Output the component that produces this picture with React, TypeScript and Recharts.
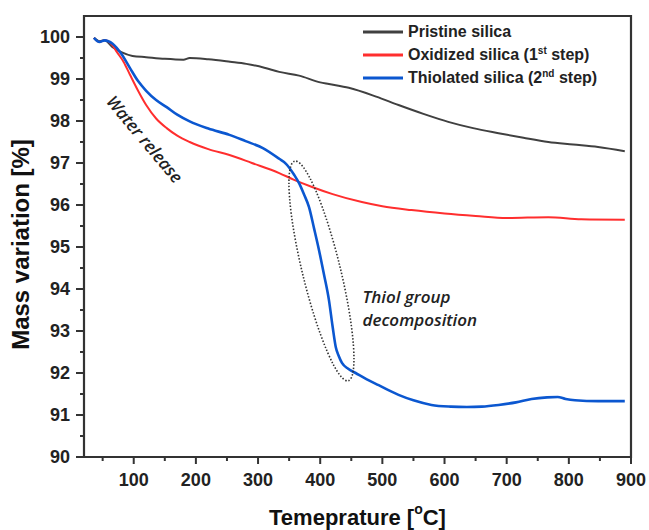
import { LineChart, Line, XAxis, YAxis, Legend, ReferenceDot, Label } from 'recharts'

// TGA curves (temperature in °C, mass in %)
const seriesNames = ['Pristine silica', 'Oxidized silica (1st step)', 'Thiolated silica (2nd step)']

const pristineTemp = [36, 45, 53, 66, 80, 98, 120, 150, 180, 190, 220, 255, 281, 310, 334, 366, 400, 414, 446, 490, 526, 566, 606, 646, 687, 727, 767, 807, 847, 890]
const pristineMass = [99.98, 99.9, 99.92, 99.76, 99.64, 99.55, 99.52, 99.48, 99.46, 99.5, 99.47, 99.41, 99.36, 99.27, 99.17, 99.08, 98.92, 98.88, 98.79, 98.58, 98.38, 98.17, 97.98, 97.83, 97.71, 97.6, 97.5, 97.44, 97.38, 97.28]

const oxidizedTemp = [36, 45, 53, 66, 73, 84, 94, 107, 120, 136, 153, 170, 190, 220, 254, 290, 334, 358, 387, 420, 467, 500, 547, 600, 650, 700, 767, 820, 890]
const oxidizedMass = [99.98, 99.88, 99.92, 99.8, 99.64, 99.4, 99.1, 98.72, 98.38, 98.06, 97.83, 97.65, 97.5, 97.33, 97.19, 97.0, 96.76, 96.6, 96.43, 96.26, 96.07, 95.97, 95.88, 95.8, 95.74, 95.69, 95.71, 95.66, 95.65]

const thiolatedTemp = [36, 45, 53, 66, 80, 94, 107, 120, 136, 153, 170, 190, 220, 254, 280, 307, 334, 345, 358, 366, 374, 382, 390, 398, 406, 414, 420, 425, 430, 435, 445, 457, 475, 494, 526, 550, 579, 610, 636, 660, 687, 715, 740, 765, 782, 795, 810, 847, 890]
const thiolatedMass = [99.98, 99.88, 99.92, 99.84, 99.6, 99.26, 98.95, 98.72, 98.5, 98.33, 98.15, 97.99, 97.82, 97.67, 97.52, 97.36, 97.1, 96.98, 96.72, 96.52, 96.25, 95.95, 95.45, 94.93, 94.35, 93.74, 93.1, 92.62, 92.4, 92.24, 92.1, 92.0, 91.85, 91.71, 91.48, 91.35, 91.24, 91.2, 91.19, 91.2, 91.24, 91.3, 91.38, 91.42, 91.43, 91.38, 91.35, 91.33, 91.33]

const xDomain = [20, 900]
const yDomain = [90, 100.5]
const xTicks = [50, 100, 150, 200, 250, 300, 350, 400, 450, 500, 550, 600, 650, 700, 750, 800, 850, 900]
const yTicks = [90, 90.5, 91, 91.5, 92, 92.5, 93, 93.5, 94, 94.5, 95, 95.5, 96, 96.5, 97, 97.5, 98, 98.5, 99, 99.5, 100]

const toPoints = (t: number[], m: number[]) => t.map((x, i) => ({ t: x, m: m[i] }))

const W = 649
const H = 530
const M_TOP = 16
const M_RIGHT = 18
const M_BOTTOM = 23
const M_LEFT = 24
const X_AXIS_H = 50
const Y_AXIS_W = 60
const PLOT_W = W - M_LEFT - Y_AXIS_W - M_RIGHT
const PLOT_H = H - M_TOP - M_BOTTOM - X_AXIS_H

const AXIS = '#333'
const FONT = '"Liberation Sans", Arial, sans-serif'
const NOTE_FONT = '"Open Sans", sans-serif'

function XTick({ x, y, payload }: any) {
  const major = payload.value % 100 === 0
  return (
    <g>
      <line x1={x} y1={y} x2={x} y2={y + (major ? 7 : 4)} stroke={AXIS} strokeWidth={2} />
      {major && (
        <text x={x} y={y + 23} textAnchor="middle" dominantBaseline="central"
          fontFamily={FONT} fontWeight="bold" fontSize={18} fill="#222">
          {payload.value}
        </text>
      )}
    </g>
  )
}

function YTick({ x, y, payload }: any) {
  const major = Number.isInteger(payload.value)
  return (
    <g>
      <line x1={x} y1={y} x2={x - (major ? 8 : 4)} y2={y} stroke={AXIS} strokeWidth={2} />
      {major && (
        <text x={x - 14} y={y} textAnchor="end" dominantBaseline="central"
          fontFamily={FONT} fontWeight="bold" fontSize={18} fill="#222">
          {payload.value}
        </text>
      )}
    </g>
  )
}

// "1st" / "2nd" get a superscript
function legendText(name: string) {
  const m = name.match(/^(.*\(\d)(st|nd)(.*)$/)
  if (!m) return name
  return (
    <>
      {m[1]}<sup style={{ fontSize: 10, lineHeight: 0 }}>{m[2]}</sup>{m[3]}
    </>
  )
}

function renderLegend({ payload }: any) {
  const items = [...(payload || [])].sort(
    (a: any, b: any) => seriesNames.indexOf(a.value) - seriesNames.indexOf(b.value))
  return (
    <div style={{ fontFamily: FONT, fontWeight: 'bold', fontSize: 16, color: '#222' }}>
      {items.map((p: any) => (
        <div key={p.value} style={{ display: 'flex', alignItems: 'center', height: 23 }}>
          <svg width={40} height={4} style={{ marginRight: 5 }}>
            <line x1={0} y1={2} x2={40} y2={2} stroke={p.color} strokeWidth={3} />
          </svg>
          <span>{legendText(p.value)}</span>
        </div>
      ))}
    </div>
  )
}

// closed box drawn as a path from the top-left corner of the plot
function Frame(p: any) {
  const x = Number(p.cx)
  const y = Number(p.cy)
  return (
    <path d={`M${x},${y} L${x + PLOT_W},${y} L${x + PLOT_W},${y + PLOT_H} L${x},${y + PLOT_H} Z`}
      fill="none" stroke={AXIS} strokeWidth={2.2} />
  )
}

export default function App() {
  return (
    <div style={{ position: 'absolute', left: 0, top: 0, width: W, height: H }}>
      <LineChart width={W} height={H}
        margin={{ top: M_TOP, right: M_RIGHT, bottom: M_BOTTOM, left: M_LEFT }}>
        <XAxis type="number" dataKey="t" domain={xDomain} ticks={xTicks} interval={0}
          allowDataOverflow tick={<XTick />} tickLine={false} tickSize={0} tickMargin={0}
          height={X_AXIS_H} stroke={AXIS} strokeWidth={2}>
          <Label content={({ viewBox }: any) => (
            <text x={viewBox.x + viewBox.width / 2} y={viewBox.y + 60} textAnchor="middle"
              dominantBaseline="central" fontFamily={FONT} fontWeight="bold" fontSize={22} fill="#111">
              Temeprature [<tspan fontSize={14} dy={-8}>o</tspan><tspan dy={8}>C]</tspan>
            </text>
          )} />
        </XAxis>
        <YAxis type="number" domain={yDomain} ticks={yTicks} interval={0}
          allowDataOverflow tick={<YTick />} tickLine={false} tickSize={0} tickMargin={0}
          width={Y_AXIS_W} stroke={AXIS} strokeWidth={2}>
          <Label content={({ viewBox }: any) => {
            const cx = viewBox.x - 4
            const cy = viewBox.y + viewBox.height / 2 + 8
            return (
              <text x={cx} y={cy} textAnchor="middle" dominantBaseline="central"
                transform={`rotate(-90 ${cx} ${cy})`} fontFamily={FONT} fontWeight="bold"
                fontSize={24} fill="#111">
                Mass variation [%]
              </text>
            )
          }} />
        </YAxis>
        <ReferenceDot x={xDomain[0]} y={yDomain[1]} ifOverflow="visible" shape={Frame} />
        <Legend layout="vertical" verticalAlign="middle" align="center" content={renderLegend}
          wrapperStyle={{ top: 20, left: 363, width: 280 }} />
        <Line data={toPoints(pristineTemp, pristineMass)} dataKey="m" name={seriesNames[0]}
          type="monotone" stroke="#404040" strokeWidth={2} dot={false} isAnimationActive={false} />
        <Line data={toPoints(oxidizedTemp, oxidizedMass)} dataKey="m" name={seriesNames[1]}
          type="monotone" stroke="#ff2e2e" strokeWidth={2} dot={false} isAnimationActive={false} />
        <Line data={toPoints(thiolatedTemp, thiolatedMass)} dataKey="m" name={seriesNames[2]}
          type="monotone" stroke="#0b57d0" strokeWidth={2.6} dot={false} isAnimationActive={false} />
        <ReferenceDot x={402} y={94.43} shape={(p: any) => (
          <ellipse cx={p.cx} cy={p.cy} rx={19} ry={113} transform={`rotate(-13.7 ${p.cx} ${p.cy})`}
            fill="none" stroke="#333" strokeWidth={1.6} strokeDasharray="1.5 1.8" />
        )} />
        <ReferenceDot x={118} y={97.57} shape={(p: any) => (
          <text x={p.cx} y={p.cy} textAnchor="middle" dominantBaseline="central"
            transform={`rotate(50 ${p.cx} ${p.cy})`} fontFamily={NOTE_FONT} fontStyle="italic"
            fontWeight={600} fontSize={17} fill="#222">
            Water release
          </text>
        )} />
        <ReferenceDot x={468} y={93.54} shape={(p: any) => (
          <text fontFamily={NOTE_FONT} fontStyle="italic" fontWeight={600} fontSize={17} fill="#222">
            <tspan x={p.cx} y={p.cy - 5}>Thiol group</tspan>
            <tspan x={p.cx} y={p.cy + 18}>decomposition</tspan>
          </text>
        )} />
      </LineChart>
    </div>
  )
}
